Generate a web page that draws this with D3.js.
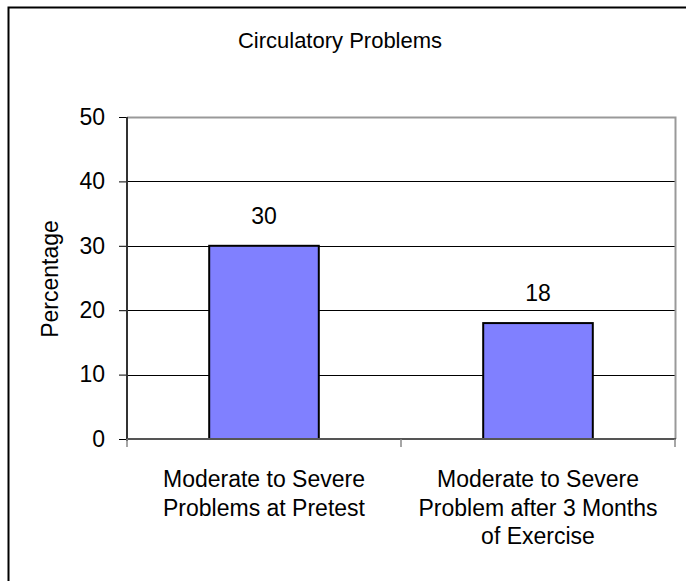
<!DOCTYPE html>
<html>
<head>
<meta charset="UTF-8">
<title>Circulatory Problems</title>
<style>
  body { margin: 0; background: #fff; }
  text { font-family: 'Liberation Sans', Arial, sans-serif; fill: #000; }
</style>
</head>
<body>
<svg id="chart"></svg>
<script src="https://d3js.org/d3.v7.min.js"></script>
<script>
// data
const categories = [
  ["Moderate to Severe", "Problems at Pretest"],
  ["Moderate to Severe", "Problem after 3 Months", "of Exercise"]
];
const values = [30, 18];
const yTicks = [0, 10, 20, 30, 40, 50];

let width = 686, height = 581;
let plotL = 127, plotR = 675, plotT = 117, plotB = 439;

let svg = d3.select("#chart").attr("width", width).attr("height", height);

// outer frame (only left and top edges fall inside the picture)
svg.append("rect")
  .attr("x", 8.5).attr("y", 7.5)
  .attr("width", 700).attr("height", 600)
  .style("fill", "none").style("stroke", "#000").style("stroke-width", 2);

let x = d3.scaleBand().domain(d3.range(values.length)).range([plotL, plotR]).paddingInner(0).paddingOuter(0);
let y = d3.scaleLinear().domain([0, 50]).range([plotB, plotT]);

// gridlines
svg.append("g").selectAll("line")
  .data(yTicks.filter(t => t > 0 && t < 50))
  .enter().append("line")
  .attr("x1", plotL).attr("x2", plotR)
  .attr("y1", d => Math.round(y(d)) + 0.5).attr("y2", d => Math.round(y(d)) + 0.5)
  .style("stroke", "#000").style("stroke-width", 1);

// plot area border (top and right)
svg.append("path")
  .attr("d", `M${plotL},${plotT + 0.5}H${plotR + 0.5}V${plotB}`)
  .style("fill", "none").style("stroke", "#999").style("stroke-width", 2);

// bars
let barW = x.bandwidth() * 0.4;
svg.append("g").selectAll("rect")
  .data(values)
  .enter().append("rect")
  .attr("x", (d, i) => x(i) + (x.bandwidth() - barW) / 2)
  .attr("y", d => y(d))
  .attr("width", barW)
  .attr("height", d => plotB - y(d))
  .style("fill", "#8080ff").style("stroke", "#000").style("stroke-width", 2);

// value labels
svg.append("g").selectAll("text")
  .data(values)
  .enter().append("text")
  .attr("x", (d, i) => x(i) + x.bandwidth() / 2)
  .attr("y", d => y(d) - 22)
  .attr("text-anchor", "middle")
  .style("font-size", "23px")
  .text(d => d);

// y axis
let yAxis = d3.axisLeft(y).tickValues(yTicks).tickSize(8).tickPadding(14);
let ya = svg.append("g").attr("transform", `translate(${plotL},0)`).call(yAxis);
ya.select(".domain").remove();
ya.selectAll(".tick line").style("stroke", "#000");
ya.selectAll(".tick text").style("font-size", "23px").style("font-family", "'Liberation Sans', Arial, sans-serif");
svg.append("line")
  .attr("x1", plotL).attr("x2", plotL).attr("y1", plotT).attr("y2", plotB + 2)
  .style("stroke", "#333").style("stroke-width", 2);

// x axis
svg.append("line")
  .attr("x1", plotL).attr("x2", plotR + 1).attr("y1", plotB).attr("y2", plotB)
  .style("stroke", "#555").style("stroke-width", 2);
svg.append("g").selectAll("line")
  .data([0, 1, 2])
  .enter().append("line")
  .attr("x1", d => plotL + d * x.bandwidth()).attr("x2", d => plotL + d * x.bandwidth())
  .attr("y1", plotB).attr("y2", plotB + 8)
  .style("stroke", "#888").style("stroke-width", 1.5);

// category labels
let cat = svg.append("g").selectAll("text")
  .data(categories)
  .enter().append("text")
  .attr("x", (d, i) => x(i) + x.bandwidth() / 2)
  .attr("y", 487)
  .attr("text-anchor", "middle")
  .style("font-size", "23px");
cat.selectAll("tspan")
  .data(d => d)
  .enter().append("tspan")
  .attr("x", function () { return d3.select(this.parentNode).attr("x"); })
  .attr("dy", (d, i) => i === 0 ? 0 : 28.5)
  .text(d => d);

// axis title
svg.append("text")
  .attr("transform", "translate(58,279) rotate(-90)")
  .attr("text-anchor", "middle")
  .style("font-size", "23px")
  .text("Percentage");

// chart title
svg.append("text")
  .attr("x", 340).attr("y", 48)
  .attr("text-anchor", "middle")
  .style("font-size", "22px")
  .text("Circulatory Problems");
</script>
</body>
</html>
